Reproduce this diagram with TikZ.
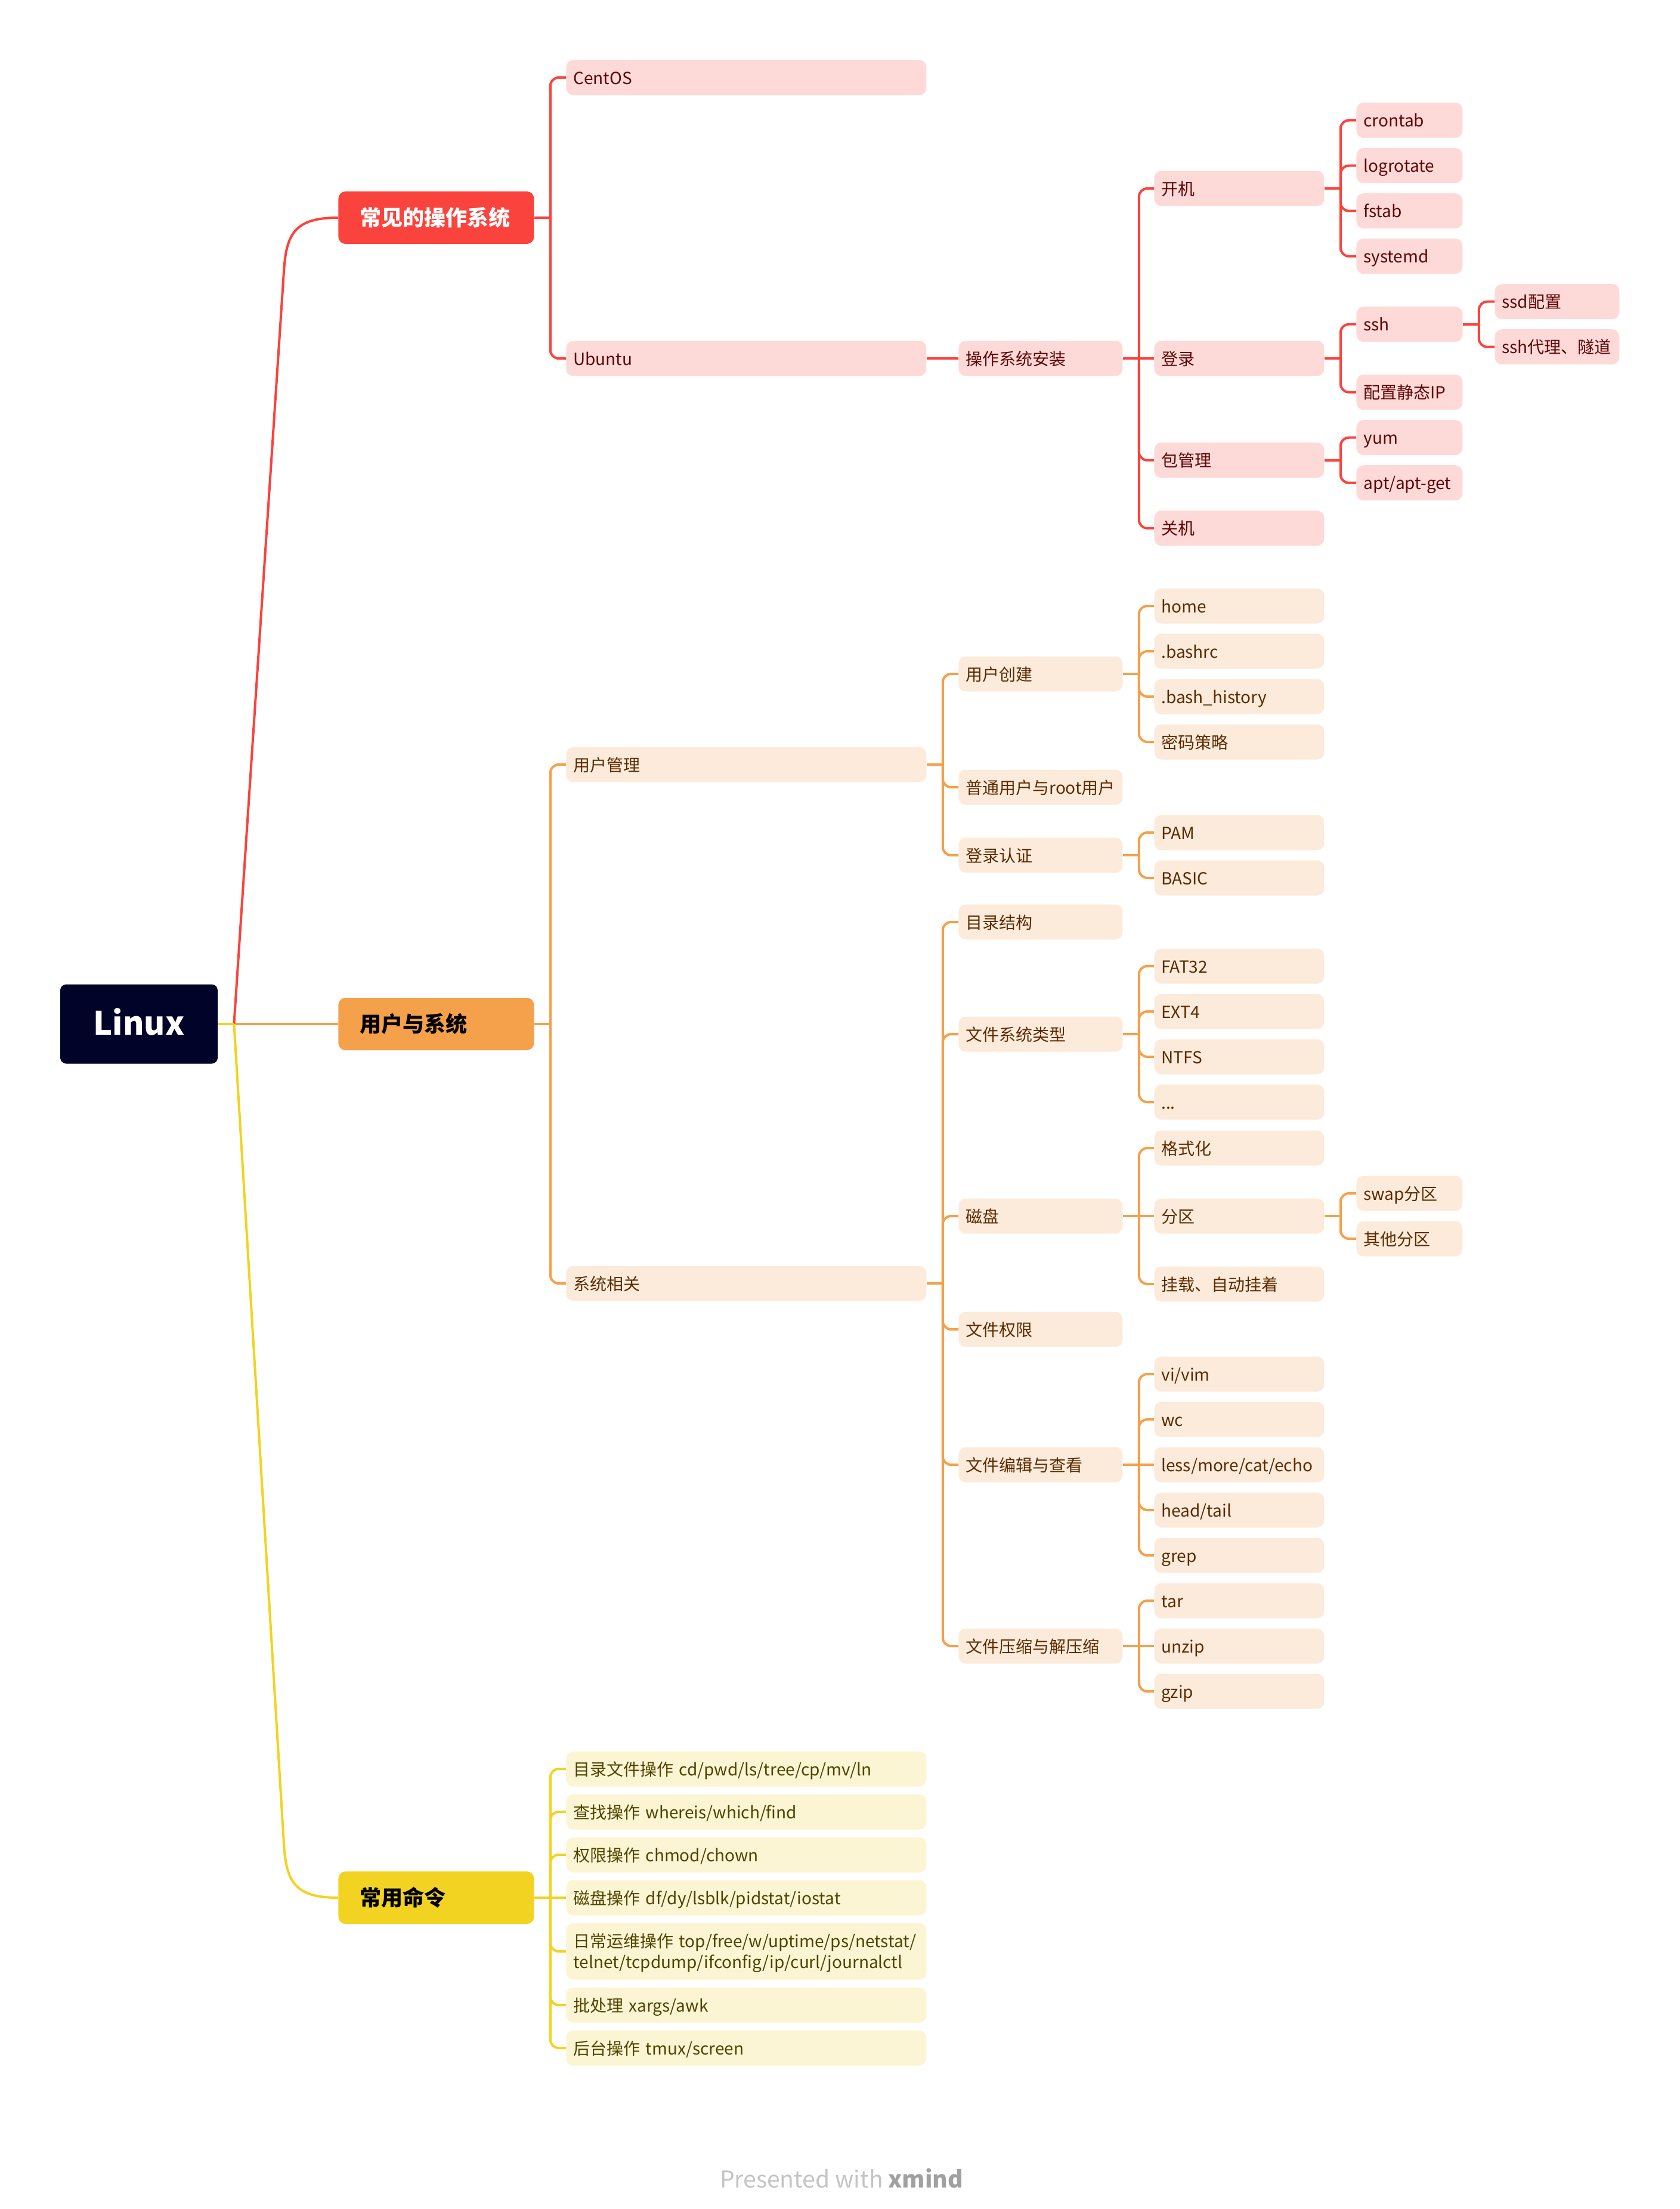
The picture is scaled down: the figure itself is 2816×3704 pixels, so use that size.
\documentclass[tikz,border=0pt]{standalone}
\usepackage{fontspec}
\setmainfont{Noto Sans CJK SC}
\definecolor{rmain}{HTML}{FA433C}
\definecolor{rfill}{HTML}{FDDAD8}
\definecolor{rtext}{HTML}{5E0505}
\definecolor{omain}{HTML}{F5A04A}
\definecolor{ofill}{HTML}{FCEBDB}
\definecolor{otext}{HTML}{5A2B00}
\definecolor{ymain}{HTML}{F2D321}
\definecolor{yfill}{HTML}{FCF5D3}
\definecolor{ytext}{HTML}{4F4300}
\definecolor{navy}{HTML}{010328}
\definecolor{ftgray}{HTML}{C4C4C4}
\definecolor{ftdark}{HTML}{A0A0A0}
\tikzset{
  lvl/.style={rectangle, rounded corners=6pt, inner xsep=6pt, inner ysep=0pt,
    minimum height=29.5pt, anchor=west, align=left,
    text height=13pt, text depth=2pt,
    font=\fontsize{14}{17.5}\selectfont},
  cA/.style={text width=290pt},
  cB/.style={text width=125.5pt},
  cC/.style={text width=130.5pt},
  cD/.style={text width=77pt},
  cE/.style={text width=92.5pt},
  rbx/.style={lvl, fill=rfill, text=rtext},
  obx/.style={lvl, fill=ofill, text=otext},
  ybx/.style={lvl, fill=yfill, text=ytext},
  topic/.style={rectangle, rounded corners=6pt, inner xsep=18pt, inner ysep=0pt,
    minimum height=44pt, text width=128pt, anchor=west, align=left,
    text height=16pt, text depth=2.3pt,
    font=\fontsize{18}{22}\selectfont\bfseries},
  rootbox/.style={rectangle, rounded corners=5pt, fill=navy, text=white,
    minimum width=132pt, minimum height=66.5pt, inner sep=0pt,
    text height=20.5pt, text depth=2pt,
    font=\fontsize{27}{32}\selectfont\bfseries},
  rln/.style={draw=rmain, line width=2pt, rounded corners=7pt},
  oln/.style={draw=omain, line width=2pt, rounded corners=7pt},
  yln/.style={draw=ymain, line width=2pt, rounded corners=7pt},
  mcv/.style={line width=2pt},
}
\begin{document}
\begin{tikzpicture}[x=0.5pt, y=-0.5pt]
\useasboundingbox (0,0) rectangle (2816,3704);

% ---------- root ----------
\node[rootbox] (root) at (233,1717) {Linux};

% ---------- main topics ----------
\node[topic, fill=rmain, text=white] (m1) at (567,365) {常见的操作系统};
\node[topic, fill=omain, text=black] (m2) at (567,1717) {用户与系统};
\node[topic, fill=ymain, text=black] (m3) at (567,3182) {常用命令};

% ---------- red section ----------
\node[rbx, cA] (centos) at (949,130) {CentOS};
\node[rbx, cA] (ubuntu) at (949,601) {Ubuntu};
\node[rbx, cB] (osinst) at (1607,601) {操作系统安装};
\node[rbx, cC] (kj) at (1935,316) {开机};
\node[rbx, cD] (crontab) at (2274,201.7) {crontab};
\node[rbx, cD] (logrotate) at (2274,277.7) {logrotate};
\node[rbx, cD] (fstab) at (2274,353.7) {fstab};
\node[rbx, cD] (systemd) at (2274,429.7) {systemd};
\node[rbx, cC] (dl) at (1935,601) {登录};
\node[rbx, cD] (ssh) at (2274,543.7) {ssh};
\node[rbx, cE] (ssdcfg) at (2506,505.7) {ssd配置};
\node[rbx, cE] (sshproxy) at (2506,581.7) {ssh代理、隧道};
\node[rbx, cD] (staticip) at (2274,657.7) {配置静态IP};
\node[rbx, cC] (pkg) at (1935,771.7) {包管理};
\node[rbx, cD] (yum) at (2274,733.7) {yum};
\node[rbx, cD] (apt) at (2274,809.7) {apt/apt-get};
\node[rbx, cC] (gj) at (1935,885.7) {关机};

% ---------- orange section ----------
\node[obx, cA] (yhgl) at (949,1282) {用户管理};
\node[obx, cA] (xtxg) at (949,2152) {系统相关};
\node[obx, cB] (yhcj) at (1607,1130) {用户创建};
\node[obx, cC] (home) at (1935,1016) {home};
\node[obx, cC] (bashrc) at (1935,1092) {.bashrc};
\node[obx, cC] (bashhist) at (1935,1168) {.bash\_history};
\node[obx, cC] (mmcl) at (1935,1244) {密码策略};
\node[obx, cB] (ptyh) at (1607,1320) {普通用户与root用户};
\node[obx, cB] (dlrz) at (1607,1434) {登录认证};
\node[obx, cC] (pam) at (1935,1396) {PAM};
\node[obx, cC] (basic) at (1935,1472) {BASIC};
\node[obx, cB] (mljg) at (1607,1546) {目录结构};
\node[obx, cB] (wjxt) at (1607,1734) {文件系统类型};
\node[obx, cC] (fat) at (1935,1620) {FAT32};
\node[obx, cC] (ext) at (1935,1696) {EXT4};
\node[obx, cC] (ntfs) at (1935,1772) {NTFS};
\node[obx, cC] (dots) at (1935,1848) {...};
\node[obx, cB] (cp) at (1607,2039) {磁盘};
\node[obx, cC] (gsh) at (1935,1925) {格式化};
\node[obx, cC] (fq) at (1935,2039) {分区};
\node[obx, cD] (swap) at (2274,2001) {swap分区};
\node[obx, cD] (qtfq) at (2274,2077) {其他分区};
\node[obx, cC] (gz) at (1935,2153) {挂载、自动挂着};
\node[obx, cB] (wjqx) at (1607,2229) {文件权限};
\node[obx, cB] (wjbj) at (1607,2456) {文件编辑与查看};
\node[obx, cC] (vi) at (1935,2304) {vi/vim};
\node[obx, cC] (wc) at (1935,2380) {wc};
\node[obx, cC] (less) at (1935,2456) {less/more/cat/echo};
\node[obx, cC] (head) at (1935,2532) {head/tail};
\node[obx, cC] (grep) at (1935,2608) {grep};
\node[obx, cB] (wjys) at (1607,2760) {文件压缩与解压缩};
\node[obx, cC] (tar) at (1935,2684) {tar};
\node[obx, cC] (unzip) at (1935,2760) {unzip};
\node[obx, cC] (gzip) at (1935,2836) {gzip};

% ---------- yellow section ----------
\node[ybx, cA] (y1) at (949,2966) {目录文件操作 cd/pwd/ls/tree/cp/mv/ln};
\node[ybx, cA] (y2) at (949,3038) {查找操作 whereis/which/find};
\node[ybx, cA] (y3) at (949,3110) {权限操作 chmod/chown};
\node[ybx, cA] (y4) at (949,3182) {磁盘操作 df/dy/lsblk/pidstat/iostat};
\node[ybx, cA, minimum height=47.5pt, text height=13pt, text depth=19.9pt] (y5) at (949,3272)
  {日常运维操作 top/free/w/uptime/ps/netstat/\\telnet/tcpdump/ifconfig/ip/curl/journalctl};
\node[ybx, cA] (y6) at (949,3362) {批处理 xargs/awk};
\node[ybx, cA] (y7) at (949,3434) {后台操作 tmux/screen};

% ---------- footer ----------
\node[font=\fontsize{19.5}{24}\selectfont, text=ftgray, inner sep=0pt] (ft) at (1411,3653)
  {Presented with \textcolor{ftdark}{\bfseries xmind}};

% ---------- main connectors ----------
\coordinate (rj) at ([xshift=13.5pt]root.east);
\draw[omain, mcv] (root.east) -- (m2.west);
\draw[rmain, mcv] (rj) -- (476,455) .. controls (480,392) and (494,365) .. (m1.west);
\draw[ymain, mcv] (rj) -- (476,3092) .. controls (480,3155) and (494,3182) .. (m3.west);
\draw[ymain, mcv] (root.east) -- (rj);

% ---------- red connectors ----------
\draw[rln] (m1.east) -- ([xshift=13.5pt]m1.east) coordinate (jm1);
\foreach \c in {centos,ubuntu} \draw[rln] (jm1) |- (\c.west);
\draw[rln] (ubuntu.east) -- (osinst.west);
\draw[rln] (osinst.east) -- ([xshift=13.5pt]osinst.east) coordinate (josi);
\foreach \c in {kj,pkg,gj} \draw[rln] (josi) |- (\c.west);
\draw[rln] (josi) -- (dl.west);
\draw[rln] (kj.east) -- ([xshift=13.5pt]kj.east) coordinate (jkj);
\foreach \c in {crontab,logrotate,fstab,systemd} \draw[rln] (jkj) |- (\c.west);
\draw[rln] (dl.east) -- ([xshift=13.5pt]dl.east) coordinate (jdl);
\foreach \c in {ssh,staticip} \draw[rln] (jdl) |- (\c.west);
\draw[rln] (ssh.east) -- ([xshift=13.5pt]ssh.east) coordinate (jssh);
\foreach \c in {ssdcfg,sshproxy} \draw[rln] (jssh) |- (\c.west);
\draw[rln] (pkg.east) -- ([xshift=13.5pt]pkg.east) coordinate (jpkg);
\foreach \c in {yum,apt} \draw[rln] (jpkg) |- (\c.west);

% ---------- orange connectors ----------
\draw[oln] (m2.east) -- ([xshift=13.5pt]m2.east) coordinate (jm2);
\foreach \c in {yhgl,xtxg} \draw[oln] (jm2) |- (\c.west);
\draw[oln] (yhgl.east) -- ([xshift=13.5pt]yhgl.east) coordinate (jyhgl);
\foreach \c in {yhcj,ptyh,dlrz} \draw[oln] (jyhgl) |- (\c.west);
\draw[oln] (yhcj.east) -- ([xshift=13.5pt]yhcj.east) coordinate (jyhcj);
\foreach \c in {home,bashrc,bashhist,mmcl} \draw[oln] (jyhcj) |- (\c.west);
\draw[oln] (dlrz.east) -- ([xshift=13.5pt]dlrz.east) coordinate (jdlrz);
\foreach \c in {pam,basic} \draw[oln] (jdlrz) |- (\c.west);
\draw[oln] (xtxg.east) -- ([xshift=13.5pt]xtxg.east) coordinate (jxtxg);
\foreach \c in {mljg,wjxt,cp,wjqx,wjbj,wjys} \draw[oln] (jxtxg) |- (\c.west);
\draw[oln] (wjxt.east) -- ([xshift=13.5pt]wjxt.east) coordinate (jwjxt);
\foreach \c in {fat,ext,ntfs,dots} \draw[oln] (jwjxt) |- (\c.west);
\draw[oln] (cp.east) -- ([xshift=13.5pt]cp.east) coordinate (jcp);
\foreach \c in {gsh,gz} \draw[oln] (jcp) |- (\c.west);
\draw[oln] (jcp) -- (fq.west);
\draw[oln] (fq.east) -- ([xshift=13.5pt]fq.east) coordinate (jfq);
\foreach \c in {swap,qtfq} \draw[oln] (jfq) |- (\c.west);
\draw[oln] (wjbj.east) -- ([xshift=13.5pt]wjbj.east) coordinate (jwjbj);
\foreach \c in {vi,wc,head,grep} \draw[oln] (jwjbj) |- (\c.west);
\draw[oln] (jwjbj) -- (less.west);
\draw[oln] (wjys.east) -- ([xshift=13.5pt]wjys.east) coordinate (jwjys);
\foreach \c in {tar,gzip} \draw[oln] (jwjys) |- (\c.west);
\draw[oln] (jwjys) -- (unzip.west);

% ---------- yellow connectors ----------
\draw[yln] (m3.east) -- ([xshift=13.5pt]m3.east) coordinate (jm3);
\foreach \c in {y1,y2,y3,y5,y6,y7} \draw[yln] (jm3) |- (\c.west);
\draw[yln] (jm3) -- (y4.west);
\end{tikzpicture}
\end{document}
